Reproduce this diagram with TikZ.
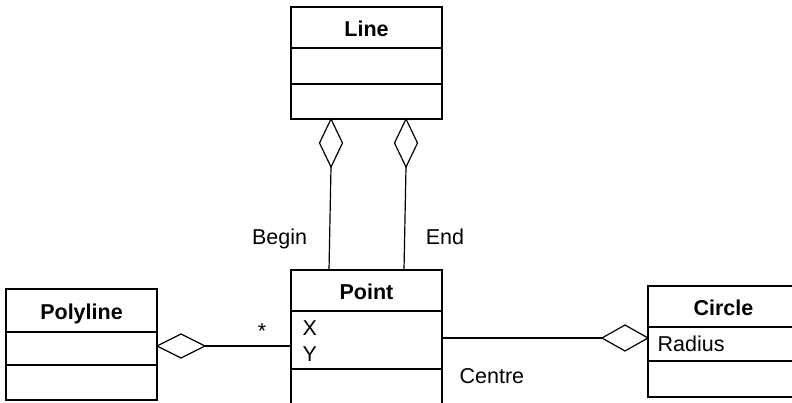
\documentclass[tikz,border=0pt]{standalone}
\usepackage{fontspec}
\setmainfont{Liberation Sans}
\usetikzlibrary{shapes.geometric}
\begin{document}
\begin{tikzpicture}[x=1pt,y=-1pt,line width=1.2pt,
  txt/.style={font=\fontsize{21.5}{26}\selectfont,anchor=base,inner sep=0},
  ttl/.style={font=\bfseries\fontsize{21.5}{26}\selectfont,anchor=base,inner sep=0},
  cls/.style={draw,line width=1.2pt,minimum width=151pt,anchor=north west,inner sep=0,outer sep=0},
  dia/.style={draw,diamond,fill=white,inner sep=0,outer sep=0,line width=1.2pt}]
\useasboundingbox (0,0) rectangle (792,402);
\clip (0,0) rectangle (792,402);
% Line class
\node[cls,minimum height=112pt] (line) at (291,7) {};
\draw (291,48) -- (442,48);
\draw (291,84) -- (442,84);
\node[ttl] (lineT) at (366.5,36) {Line};
% Point class
\node[cls,minimum height=150pt] (point) at (291,270) {};
\draw (291,311) -- (442,311);
\draw (291,369) -- (442,369);
\node[ttl] (pointT) at (366.5,299) {Point};
\node[txt,anchor=base west] (px) at (302,335) {X};
\node[txt,anchor=base west] (py) at (302,361) {Y};
% Polyline class
\node[cls,minimum height=111pt] (poly) at (6,289) {};
\draw (6,332) -- (157,332);
\draw (6,365) -- (157,365);
\node[ttl] (polyT) at (81.5,319) {Polyline};
% Circle class
\node[cls,minimum height=111pt] (circ) at (648,286) {};
\draw (648,327) -- (799,327);
\draw (648,361) -- (799,361);
\node[ttl] (circT) at (723.5,315) {Circle};
\node[txt,anchor=base west] (rad) at (657,351) {Radius};
% Diamonds
\node[dia,minimum width=23pt,minimum height=48pt] (dl) at (331,143) {};
\node[dia,minimum width=23pt,minimum height=48pt] (dr) at (406,143) {};
\node[dia,minimum width=48pt,minimum height=24pt] (dp) at (181,346) {};
\node[dia,minimum width=46pt,minimum height=26pt] (dc) at (625,338) {};
% Connectors
\coordinate (pl) at (329,270);
\coordinate (pr) at (404,270);
\draw (dl.south) -- (pl);
\draw (dr.south) -- (pr);
\draw (dp.east) -- (dp.east -| point.west);
\draw (point.east |- dc.west) -- (dc.west);
% Labels
\node[txt] (lbegin) at (279.5,244) {Begin};
\node[txt] (lend) at (445,244) {End};
\node[txt] (lstar) at (262,338) {*};
\node[txt,anchor=base west] (lcentre) at (459,383) {Centre};
\end{tikzpicture}
\end{document}
